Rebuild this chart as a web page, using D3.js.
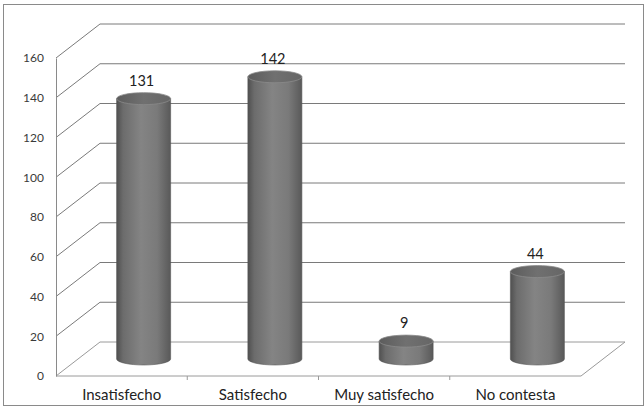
<!DOCTYPE html>
<html>
<head>
<meta charset="utf-8">
<script src="https://cdn.jsdelivr.net/npm/d3@7"></script>
<style>
  html, body { margin: 0; padding: 0; background: #fff; }
  svg { display: block; font-family: Lato, "Open Sans", sans-serif; }
</style>
</head>
<body>
<svg id="chart" width="644" height="410"></svg>
<script>
// Survey responses: satisfaction level counts
const categories = ["Insatisfecho", "Satisfecho", "Muy satisfecho", "No contesta"];
const values = [131, 142, 9, 44];
const yTicks = [0, 20, 40, 60, 80, 100, 120, 140, 160];

const svg = d3.select("#chart");
const W = 644, H = 410;

// Plot frame (front plane) and 3D depth offset of the back wall
const plot = { left: 56, right: 581, top: 58, bottom: 376 };
const depth = { dx: 44, dy: -34 };

const x = d3.scaleBand().domain(categories).range([plot.left, plot.right]);
const y = d3.scaleLinear().domain([0, 160]).range([plot.bottom, plot.top]);

// Outer border
svg.append("rect")
  .attr("x", 3.5).attr("y", 4.5).attr("width", W - 4).attr("height", H - 9)
  .attr("fill", "#fff").attr("stroke", "#8a8a8a").attr("stroke-width", 1);

const grid = svg.append("g").attr("fill", "none").attr("stroke-width", 1);

// Side-wall diagonals and back-wall gridlines
yTicks.forEach(t => {
  const yf = y(t), yb = y(t) + depth.dy;
  grid.append("path")
    .attr("d", d3.line()([[plot.left, yf], [plot.left + depth.dx, yb], [plot.right + depth.dx, yb]]))
    .attr("stroke", t === 0 ? "#9a9a9a" : "#7a7a7a");
});

// Floor: front edge and right edge
grid.append("path")
  .attr("d", d3.line()([[plot.left, y(0)], [plot.right, y(0)], [plot.right + depth.dx, y(0) + depth.dy]]))
  .attr("stroke", "#9a9a9a");

// Y axis
const yAxis = d3.axisLeft(y).tickValues(yTicks).tickSize(0).tickPadding(12);
const gy = svg.append("g").attr("transform", `translate(${plot.left},0)`).call(yAxis);
gy.select(".domain").attr("stroke", "#8a8a8a");
gy.selectAll("text").attr("font-size", 12).attr("fill", "#3a3a3a")
  .attr("font-family", "Lato, 'Open Sans', sans-serif");

// X axis (category labels below the floor's front edge)
const xAxis = d3.axisBottom(x).tickSize(0).tickPadding(13);
const gx = svg.append("g").attr("transform", `translate(0,${y(0)})`).call(xAxis);
gx.select(".domain").remove();
gx.selectAll("text").attr("font-size", 15).attr("fill", "#222")
  .attr("font-family", "Lato, 'Open Sans', sans-serif");
// Separators between categories
categories.slice(1).forEach(c => {
  gx.append("line").attr("x1", x(c)).attr("x2", x(c)).attr("y1", 0).attr("y2", 4)
    .attr("stroke", "#9a9a9a");
});

// Cylinder shading
const defs = svg.append("defs");
const bodyGrad = defs.append("linearGradient").attr("id", "cylBody").attr("x1", "0%").attr("x2", "100%");
[[0, "#505050"], [0.12, "#6c6c6c"], [0.45, "#848484"], [0.75, "#7a7a7a"], [1, "#595959"]]
  .forEach(([o, c]) => bodyGrad.append("stop").attr("offset", o).attr("stop-color", c));
const capGrad = defs.append("linearGradient").attr("id", "cylTop").attr("x1", "0%").attr("x2", "100%");
[[0, "#5c5c5c"], [0.5, "#707070"], [1, "#666"]]
  .forEach(([o, c]) => capGrad.append("stop").attr("offset", o).attr("stop-color", c));

const rx = 27, ry = 6;
const bars = svg.append("g");
categories.forEach((c, i) => {
  const cx = x(c) + x.bandwidth() / 2 + depth.dx / 2;
  const yb = y(0) + depth.dy / 2;
  const yt = y(values[i]) + depth.dy / 2;
  bars.append("path")
    .attr("d", `M${cx - rx},${yt} L${cx - rx},${yb} A${rx},${ry} 0 0 0 ${cx + rx},${yb} L${cx + rx},${yt} Z`)
    .attr("fill", "url(#cylBody)").attr("stroke", "#555").attr("stroke-width", 0.6);
  bars.append("ellipse")
    .attr("cx", cx).attr("cy", yt).attr("rx", rx).attr("ry", ry)
    .attr("fill", "url(#cylTop)").attr("stroke", "#8a8a8a").attr("stroke-width", 0.8);
  svg.append("text")
    .attr("x", cx - 2).attr("y", yt - 13)
    .attr("text-anchor", "middle").attr("font-size", 14.5).attr("fill", "#222")
    .text(values[i]);
});
</script>
</body>
</html>
